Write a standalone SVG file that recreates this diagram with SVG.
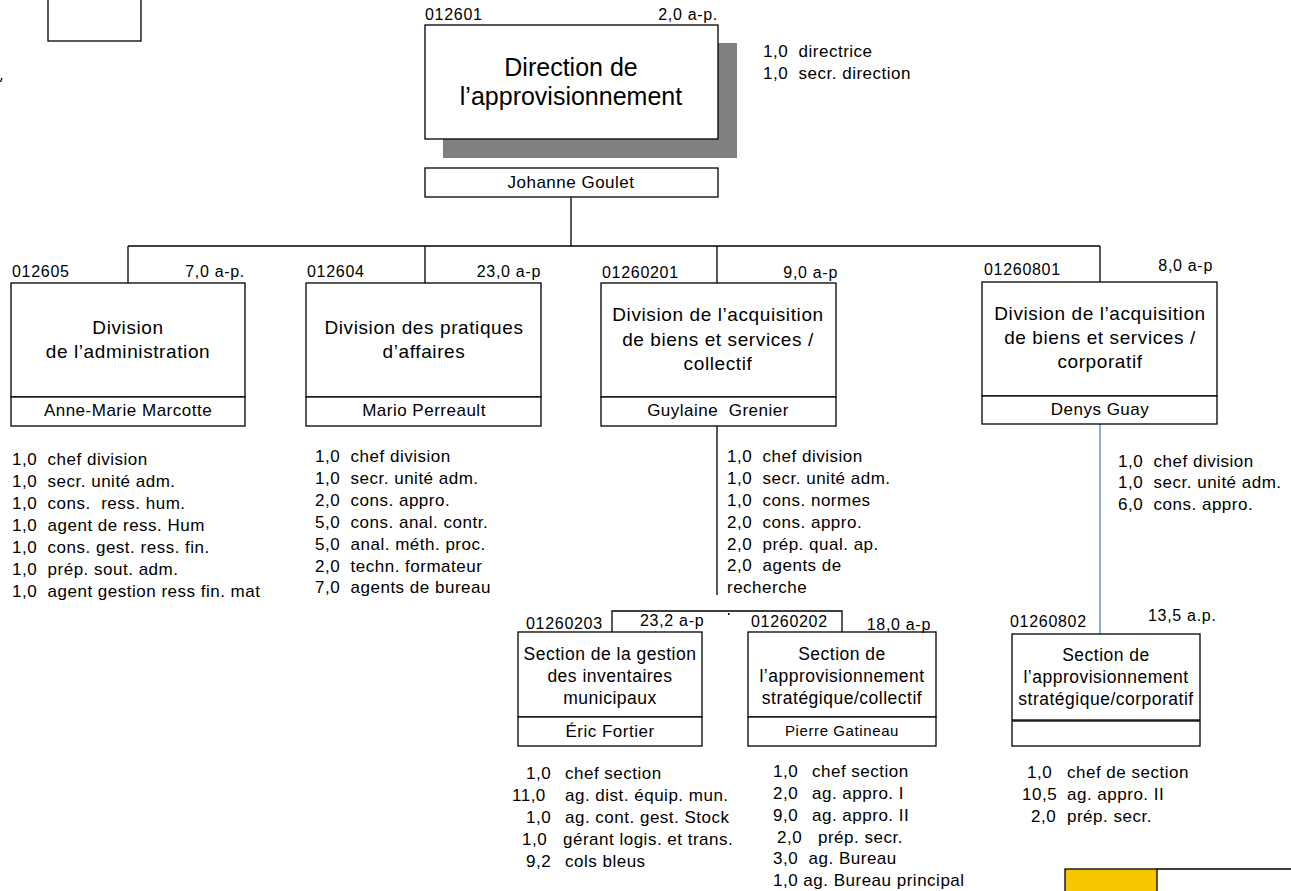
<svg xmlns="http://www.w3.org/2000/svg" width="1291" height="891" viewBox="0 0 1291 891">
<style>
.t{font-family:"Liberation Sans",Arial,Helvetica,sans-serif;fill:#000;white-space:pre}
.title{font-size:25px}
.div{font-size:19px;letter-spacing:0.6px}
.sec{font-size:17.5px;letter-spacing:0.5px}
.name{font-size:17px;letter-spacing:0.5px}
.nsm{font-size:15px;letter-spacing:0.6px}
.lbl{font-size:16px;letter-spacing:0.7px}
.st{font-size:17px;letter-spacing:0.5px}
.m{text-anchor:middle}
.e{text-anchor:end}
.box{fill:#fff;stroke:#000;stroke-width:1.3}
.ln{fill:none;stroke:#000;stroke-width:1.3}
.blue{fill:none;stroke:#4F81BD;stroke-width:1.3}
</style>

<g id="connectors">
  <line class="ln" x1="571" y1="197" x2="571" y2="246"/>
  <line class="ln" x1="128" y1="246" x2="1100" y2="246"/>
  <line class="ln" x1="128" y1="246" x2="128" y2="283"/>
  <line class="ln" x1="425" y1="246" x2="425" y2="283"/>
  <line class="ln" x1="717" y1="246" x2="717" y2="283"/>
  <line class="ln" x1="1100" y1="246" x2="1100" y2="282"/>
  <line class="ln" x1="717" y1="426" x2="717" y2="595"/>
  <polyline class="ln" points="612,632 612,611 842,611 842,632"/>
  <rect x="728" y="613" width="1.5" height="2" fill="#000"/>
  <line class="blue" x1="1100" y1="424" x2="1100" y2="634"/>
</g>

<g id="corner-box">
  <rect class="box" x="48" y="-5" width="93" height="46"/>
  <line class="ln" x1="2" y1="78" x2="0.5" y2="82"/>
</g>

<g id="direction">
  <rect x="443" y="43" width="294" height="115" fill="#808080"/>
  <rect class="box" x="425" y="25" width="293" height="114"/>
  <text class="t lbl" x="425" y="20">012601</text>
  <text class="t lbl e" x="718" y="20">2,0 a-p.</text>
  <text class="t title m" x="571" y="76">Direction de</text>
  <text class="t title m" x="571" y="105">l’approvisionnement</text>
  <rect class="box" x="425" y="168" width="293" height="29"/>
  <text class="t name m" x="571" y="188">Johanne Goulet</text>
  <text class="t st" x="763" y="57">1,0  directrice</text>
  <text class="t st" x="763" y="79">1,0  secr. direction</text>
</g>

<g id="div-administration">
  <rect class="box" x="11" y="283" width="234" height="114"/>
  <rect class="box" x="11" y="397" width="234" height="29"/>
  <text class="t lbl" x="12" y="277">012605</text>
  <text class="t lbl e" x="245" y="277">7,0 a-p.</text>
  <text class="t div m" x="128" y="334">Division</text>
  <text class="t div m" x="128" y="358">de l’administration</text>
  <text class="t name m" x="128" y="416">Anne-Marie Marcotte</text>
  <text class="t st" x="12" y="465">1,0  chef division</text>
  <text class="t st" x="12" y="487">1,0  secr. unité adm.</text>
  <text class="t st" x="12" y="509">1,0  cons.  ress. hum.</text>
  <text class="t st" x="12" y="531">1,0  agent de ress. Hum</text>
  <text class="t st" x="12" y="553">1,0  cons. gest. ress. fin.</text>
  <text class="t st" x="12" y="575">1,0  prép. sout. adm.</text>
  <text class="t st" x="12" y="597">1,0  agent gestion ress fin. mat</text>
</g>

<g id="div-pratiques">
  <rect class="box" x="306" y="283" width="235" height="114"/>
  <rect class="box" x="306" y="397" width="235" height="29"/>
  <text class="t lbl" x="307" y="277">012604</text>
  <text class="t lbl e" x="541" y="277">23,0 a-p</text>
  <text class="t div m" x="424" y="334">Division des pratiques</text>
  <text class="t div m" x="424" y="358">d’affaires</text>
  <text class="t name m" x="424" y="416">Mario Perreault</text>
  <text class="t st" x="315" y="462">1,0  chef division</text>
  <text class="t st" x="315" y="484">1,0  secr. unité adm.</text>
  <text class="t st" x="315" y="506">2,0  cons. appro.</text>
  <text class="t st" x="315" y="528">5,0  cons. anal. contr.</text>
  <text class="t st" x="315" y="550">5,0  anal. méth. proc.</text>
  <text class="t st" x="315" y="572">2,0  techn. formateur</text>
  <text class="t st" x="315" y="593">7,0  agents de bureau</text>
</g>

<g id="div-acquisition-collectif">
  <rect class="box" x="601" y="283" width="235" height="114"/>
  <rect class="box" x="601" y="397" width="235" height="29"/>
  <text class="t lbl" x="602" y="278">01260201</text>
  <text class="t lbl e" x="838" y="278">9,0 a-p</text>
  <text class="t div m" x="718" y="321">Division de l’acquisition</text>
  <text class="t div m" x="718" y="346">de biens et services /</text>
  <text class="t div m" x="718" y="370">collectif</text>
  <text class="t name m" x="718" y="416">Guylaine  Grenier</text>
  <text class="t st" x="727" y="462">1,0  chef division</text>
  <text class="t st" x="727" y="484">1,0  secr. unité adm.</text>
  <text class="t st" x="727" y="506">1,0  cons. normes</text>
  <text class="t st" x="727" y="528">2,0  cons. appro.</text>
  <text class="t st" x="727" y="550">2,0  prép. qual. ap.</text>
  <text class="t st" x="727" y="571">2,0  agents de</text>
  <text class="t st" x="727" y="593">recherche</text>
</g>

<g id="div-acquisition-corporatif">
  <rect class="box" x="982" y="282" width="235" height="114"/>
  <rect class="box" x="982" y="396" width="235" height="28"/>
  <text class="t lbl" x="984" y="275">01260801</text>
  <text class="t lbl e" x="1213" y="271">8,0 a-p</text>
  <text class="t div m" x="1100" y="320">Division de l’acquisition</text>
  <text class="t div m" x="1100" y="344">de biens et services /</text>
  <text class="t div m" x="1100" y="368">corporatif</text>
  <text class="t name m" x="1100" y="415">Denys Guay</text>
  <text class="t st" x="1118" y="467">1,0  chef division</text>
  <text class="t st" x="1118" y="488">1,0  secr. unité adm.</text>
  <text class="t st" x="1118" y="510">6,0  cons. appro.</text>
</g>

<g id="sec-inventaires">
  <rect class="box" x="518" y="632" width="184" height="85"/>
  <rect class="box" x="518" y="717" width="184" height="29"/>
  <text class="t lbl" x="526" y="629">01260203</text>
  <text class="t lbl" x="640" y="626">23,2 a-p</text>
  <text class="t sec m" x="610" y="660">Section de la gestion</text>
  <text class="t sec m" x="610" y="682">des inventaires</text>
  <text class="t sec m" x="610" y="704">municipaux</text>
  <text class="t name m" x="610" y="737">Éric Fortier</text>
  <text class="t st" x="526" y="779">1,0</text><text class="t st" x="565" y="779">chef section</text>
  <text class="t st" x="512" y="801">11,0</text><text class="t st" x="565" y="801">ag. dist. équip. mun.</text>
  <text class="t st" x="526" y="823">1,0</text><text class="t st" x="565" y="823">ag. cont. gest. Stock</text>
  <text class="t st" x="522" y="845">1,0</text><text class="t st" x="563" y="845">gérant logis. et trans.</text>
  <text class="t st" x="526" y="867">9,2</text><text class="t st" x="565" y="867">cols bleus</text>
</g>

<g id="sec-strategique-collectif">
  <rect class="box" x="748" y="632" width="188" height="85"/>
  <rect class="box" x="748" y="717" width="188" height="29"/>
  <text class="t lbl" x="751" y="627">01260202</text>
  <text class="t lbl e" x="931" y="630">18,0 a-p</text>
  <text class="t sec m" x="842" y="660">Section de</text>
  <text class="t sec m" x="842" y="682">l’approvisionnement</text>
  <text class="t sec m" x="842" y="704">stratégique/collectif</text>
  <text class="t nsm m" x="842" y="736">Pierre Gatineau</text>
  <text class="t st" x="773" y="777">1,0</text><text class="t st" x="812" y="777">chef section</text>
  <text class="t st" x="773" y="799">2,0</text><text class="t st" x="812" y="799">ag. appro. I</text>
  <text class="t st" x="773" y="821">9,0</text><text class="t st" x="812" y="821">ag. appro. II</text>
  <text class="t st" x="777" y="843">2,0</text><text class="t st" x="818" y="843">prép. secr.</text>
  <text class="t st" x="773" y="864">3,0  ag. Bureau</text>
  <text class="t st" x="773" y="886">1,0 ag. Bureau principal</text>
</g>

<g id="sec-strategique-corporatif">
  <rect class="box" x="1012" y="634" width="188" height="86"/>
  <rect class="box" x="1012" y="721" width="188" height="25"/>
  <text class="t lbl" x="1010" y="627">01260802</text>
  <text class="t lbl" x="1148" y="621">13,5 a.p.</text>
  <text class="t sec m" x="1106" y="661">Section de</text>
  <text class="t sec m" x="1106" y="683">l’approvisionnement</text>
  <text class="t sec m" x="1106" y="705">stratégique/corporatif</text>
  <text class="t st" x="1027" y="778">1,0</text><text class="t st" x="1067" y="778">chef de section</text>
  <text class="t st" x="1022" y="800">10,5</text><text class="t st" x="1067" y="800">ag. appro. II</text>
  <text class="t st" x="1031" y="822">2,0</text><text class="t st" x="1067" y="822">prép. secr.</text>
</g>

<g id="legend-box">
  <rect x="1065" y="869" width="92" height="30" fill="#F7C600" stroke="#000" stroke-width="1.3"/>
  <line class="ln" x1="1157" y1="869" x2="1291" y2="869"/>
</g>
</svg>
